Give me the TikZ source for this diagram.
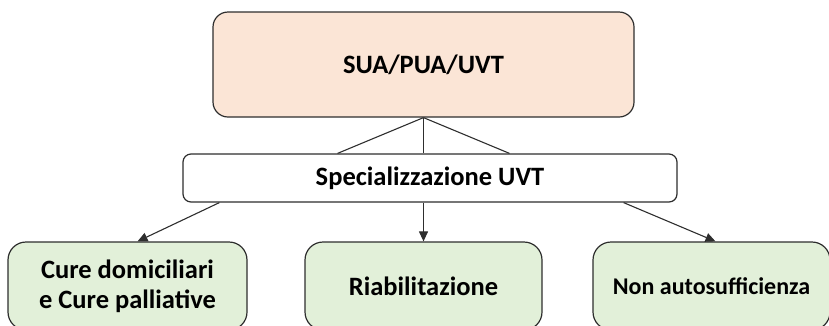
\documentclass[tikz,border=0pt]{standalone}
\usepackage{fontspec}
\setmainfont{Carlito}
\usetikzlibrary{arrows.meta}
\definecolor{peachbox}{HTML}{FBE5D6}
\definecolor{greenbox}{HTML}{E2F0D9}
\definecolor{edgegray}{HTML}{2E2E2E}

\begin{document}
\begin{tikzpicture}[x=1pt, y=-1pt,
  box/.style={draw=edgegray, line width=1.2pt, rounded corners=15pt, align=center, inner sep=0pt, font=\fontsize{26.5}{30}\selectfont\bfseries},
  link/.style={draw=edgegray, line width=1.1pt},
  arr/.style={link, -{Triangle[length=10pt, width=9pt]}}
]
\useasboundingbox (0,0) rectangle (829,325);
%
\node[box, fill=peachbox, minimum width=421pt, minimum height=105pt](sua) at (423.5,64.5) {SUA/PUA/UVT};
\node[box, fill=white, rounded corners=8pt, minimum width=494pt, minimum height=48pt](spec) at (430,178) {Specializzazione UVT};

%
\node[box, fill=greenbox, rounded corners=18pt, minimum width=239pt, minimum height=88pt](cure) at (127.5,286) {Cure domiciliari\\e Cure palliative};
\node[box, fill=greenbox, rounded corners=18pt, minimum width=237pt, minimum height=88pt](riab) at (423.5,286) {Riabilitazione};
\node[box, fill=greenbox, rounded corners=18pt, minimum width=237pt, minimum height=88pt, font=\fontsize{24}{28}\selectfont\bfseries](nonauto) at (711.5,286) {Non autosufficienza};

%
\draw[link] (sua.south) -- ([xshift=-86pt]sua.south |- spec.north);
\draw[link] (sua.south) -- (sua.south |- spec.north);
\draw[link] (sua.south) -- ([xshift=86pt]sua.south |- spec.north);

%
\draw[arr] ([xshift=37pt]spec.south west) -- ([xshift=10pt]cure.north);
\draw[arr] (riab.north |- spec.south) -- (riab.north);
\draw[arr] ([xshift=-54pt]spec.south east) -- ([xshift=4pt]nonauto.north);

\end{tikzpicture}
\end{document}
